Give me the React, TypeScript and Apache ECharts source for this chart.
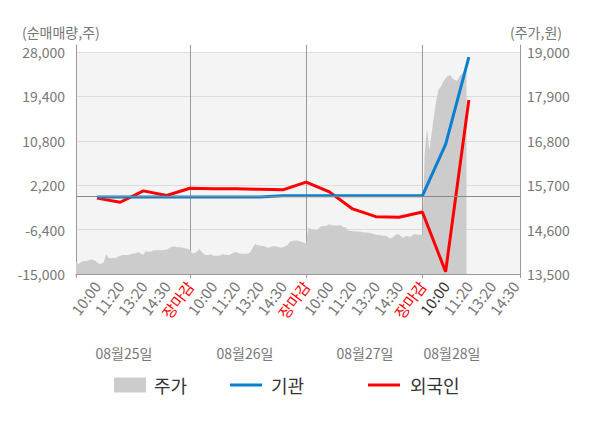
import React, { useEffect, useRef } from 'react';
import * as echarts from 'echarts';

const days = ['08월25일', '08월26일', '08월27일', '08월28일'];
const sessionLabels = ['10:00', '11:20', '13:20', '14:30', '장마감'];
const pointsPerDay = [50, 50, 50, 42];

const netMin = -15000;
const netMax = 28000;
const netStep = 8600;
const priceMin = 13500;
const priceMax = 19000;
const priceStep = 1100;

// 주가 (price), one value per category slot
const price = [
  13810, 13740, 13790, 13815, 13820, 13830, 13850, 13850, 13840, 13790,
  13750, 13760, 13800, 13990, 13900, 13890, 13900, 13890, 13930, 13950,
  13970, 13970, 13970, 13980, 14000, 14010, 14020, 14040, 14000, 13980,
  14070, 14050, 14050, 14080, 14090, 14090, 14090, 14090, 14100, 14100,
  14140, 14170, 14190, 14170, 14160, 14160, 14150, 14140, 14120, 14100,
  14010, 14020, 14050, 14120, 14050, 13990, 13970, 13970, 13990, 13950,
  13950, 13950, 13960, 13990, 13980, 13970, 13970, 14000, 14040, 14040,
  14020, 14000, 14000, 14000, 14000, 14040, 14150, 14240, 14220, 14200,
  14200, 14190, 14160, 14150, 14180, 14190, 14190, 14170, 14150, 14160,
  14190, 14220, 14300, 14320, 14330, 14330, 14320, 14300, 14280, 14250,
  14650, 14610, 14600, 14590, 14600, 14670, 14690, 14690, 14700, 14730,
  14710, 14700, 14700, 14710, 14710, 14660, 14660, 14580, 14570, 14560,
  14560, 14550, 14550, 14540, 14530, 14530, 14520, 14510, 14500, 14470,
  14470, 14460, 14450, 14450, 14430, 14380, 14400, 14450, 14490, 14480,
  14420, 14400, 14450, 14430, 14420, 14470, 14490, 14470, 14470, 14480,
  16490, 17110, 16570, 16985, 17440, 17810, 18075, 18140, 18265, 18350,
  18405, 18430, 18350, 18305, 18290, 18405, 18455, 18510, 18550,
];

// 기관 / 외국인 net volumes at each labelled session slot
const flowSlots = [9, 19, 29, 39, 49, 59, 69, 79, 89, 99, 109, 119, 129, 139, 149, 159, 169];
const institution = [-100, -100, -100, -100, -100, -100, -100, -100, 150, 150, 150, 150, 150, 150, 150, 10100, 27000];
const foreign = [-300, -1100, 1100, 200, 1600, 1500, 1500, 1400, 1300, 2800, 900, -2400, -3900, -4000, -3000, -14550, 18700];

const FONT = "'Noto Sans CJK KR', 'Noto Sans', sans-serif";

const categories: string[] = [];
days.forEach((d, di) => {
  for (let k = 0; k < pointsPerDay[di]; k++) categories.push(`${di}|${k}`);
});
const slotOf = (v: string) => Number(String(v).split('|')[1]);
const dayOf = (v: string) => Number(String(v).split('|')[0]);
const isLabelSlot = (v: string) => slotOf(v) % 10 === 9;

export default function App() {
  const ref = useRef<HTMLDivElement>(null);
  useEffect(() => {
    if (!ref.current) return;
    document.body.style.margin = '0';
    const chart = echarts.init(ref.current, undefined, { renderer: 'svg' });
    const lastIdx = categories.length - 1;
    const option: any = {
      animation: false,
      textStyle: { fontFamily: FONT },
      grid: [
        { left: 76, right: 80, top: 45, bottom: 154, show: false },
        { left: 76, right: 80, top: 52, bottom: 154, show: true, backgroundColor: '#f4f4f4', borderWidth: 0 },
      ],
      xAxis: [
        {
          type: 'category',
          gridIndex: 0,
          data: categories,
          boundaryGap: false,
          axisLine: { show: true, lineStyle: { color: '#999', width: 1 } },
          axisTick: {
            show: true,
            length: 4,
            lineStyle: { color: '#999' },
            interval: (i: number, v: string) => i === 0 || i === lastIdx || (slotOf(v) === 49),
          },
          splitLine: {
            show: true,
            lineStyle: { color: '#999', width: 1 },
            interval: (i: number, v: string) => slotOf(v) === 49,
          },
          axisLabel: {
            interval: (i: number, v: string) => isLabelSlot(v),
            rotate: 53,
            margin: 9,
            fontSize: 15,
            fontFamily: FONT,
            formatter: (v: string) => sessionLabels[Math.floor(slotOf(v) / 10)],
            color: (v: string) => {
              const k = slotOf(v);
              if (k === 49) return '#ff0000';
              if (dayOf(v) === 3 && k === 9) return '#333333';
              return '#777777';
            },
          },
        },
        {
          type: 'category',
          gridIndex: 1,
          data: categories,
          boundaryGap: false,
          show: false,
        },
      ],
      yAxis: [
        {
          type: 'value', gridIndex: 0, position: 'left', min: 0, max: 1,
          axisLine: { show: true, lineStyle: { color: '#999' } },
          axisTick: { show: false }, axisLabel: { show: false }, splitLine: { show: false },
        },
        {
          type: 'value', gridIndex: 0, position: 'right', min: 0, max: 1,
          axisLine: { show: true, lineStyle: { color: '#999' } },
          axisTick: { show: false }, axisLabel: { show: false }, splitLine: { show: false },
        },
        {
          type: 'value', gridIndex: 1, position: 'left',
          min: netMin, max: netMax, interval: netStep,
          axisLine: { show: false }, axisTick: { show: false },
          axisLabel: { fontSize: 14, color: '#777', margin: 11, fontFamily: FONT },
          splitLine: { show: true, lineStyle: { color: '#dcdcdc', width: 1 } },
        },
        {
          type: 'value', gridIndex: 1, position: 'right',
          min: priceMin, max: priceMax, interval: priceStep,
          axisLine: { show: false }, axisTick: { show: false },
          axisLabel: { fontSize: 14, color: '#777', margin: 7, fontFamily: FONT },
          splitLine: { show: false },
        },
      ],
      legend: [
        {
          data: [{ name: '주가', icon: 'rect' }], left: 109, top: 371,
          itemWidth: 32, itemHeight: 15,
          textStyle: { fontSize: 18, color: '#333', fontFamily: FONT, padding: [0, 0, 0, 3] },
        },
        {
          data: [{ name: '기관', icon: 'rect' }], left: 225, top: 371,
          itemWidth: 32, itemHeight: 3,
          textStyle: { fontSize: 18, color: '#333', fontFamily: FONT, padding: [0, 0, 0, 4] },
        },
        {
          data: [{ name: '외국인', icon: 'rect' }], left: 363, top: 371,
          itemWidth: 32, itemHeight: 3,
          textStyle: { fontSize: 18, color: '#333', fontFamily: FONT, padding: [0, 0, 0, 5] },
        },
      ],
      graphic: [
        { type: 'text', left: 22, top: 25, style: { text: '(순매매량,주)', fontSize: 14, fill: '#777', fontFamily: FONT } },
        { type: 'text', left: 510, top: 25, style: { text: '(주가,원)', fontSize: 14, fill: '#777', fontFamily: FONT } },
        ...days.map((d, i) => ({
          type: 'text',
          x: [124, 245, 365, 452][i],
          y: 353,
          style: { text: d, fontSize: 14, fill: '#777', fontFamily: FONT, align: 'center', verticalAlign: 'middle' },
        })),
      ],
      series: [
        {
          name: '주가',
          type: 'line',
          xAxisIndex: 1,
          yAxisIndex: 3,
          data: price,
          showSymbol: false,
          symbol: 'none',
          color: '#cccccc',
          lineStyle: { width: 0, color: '#cccccc' },
          areaStyle: { color: '#cccccc', opacity: 1 },
          z: 1,
        },
        {
          name: '외국인',
          type: 'line',
          xAxisIndex: 1,
          yAxisIndex: 2,
          data: flowSlots.map((s, i) => [s, foreign[i]]),
          showSymbol: false,
          symbol: 'none',
          color: '#ff0000',
          lineStyle: { width: 3, color: '#ff0000' },
          z: 3,
        },
        {
          name: '기관',
          type: 'line',
          xAxisIndex: 1,
          yAxisIndex: 2,
          data: flowSlots.map((s, i) => [s, institution[i]]),
          showSymbol: false,
          symbol: 'none',
          color: '#0a7fd0',
          lineStyle: { width: 3, color: '#0a7fd0' },
          markLine: {
            silent: true,
            symbol: 'none',
            label: { show: false },
            lineStyle: { color: '#888', width: 1, type: 'solid' },
            data: [{ yAxis: 0 }],
          },
          z: 4,
        },
      ],
    };
    chart.setOption(option);
    return () => chart.dispose();
  }, []);
  return <div ref={ref} style={{ width: 600, height: 428 }} />;
}
